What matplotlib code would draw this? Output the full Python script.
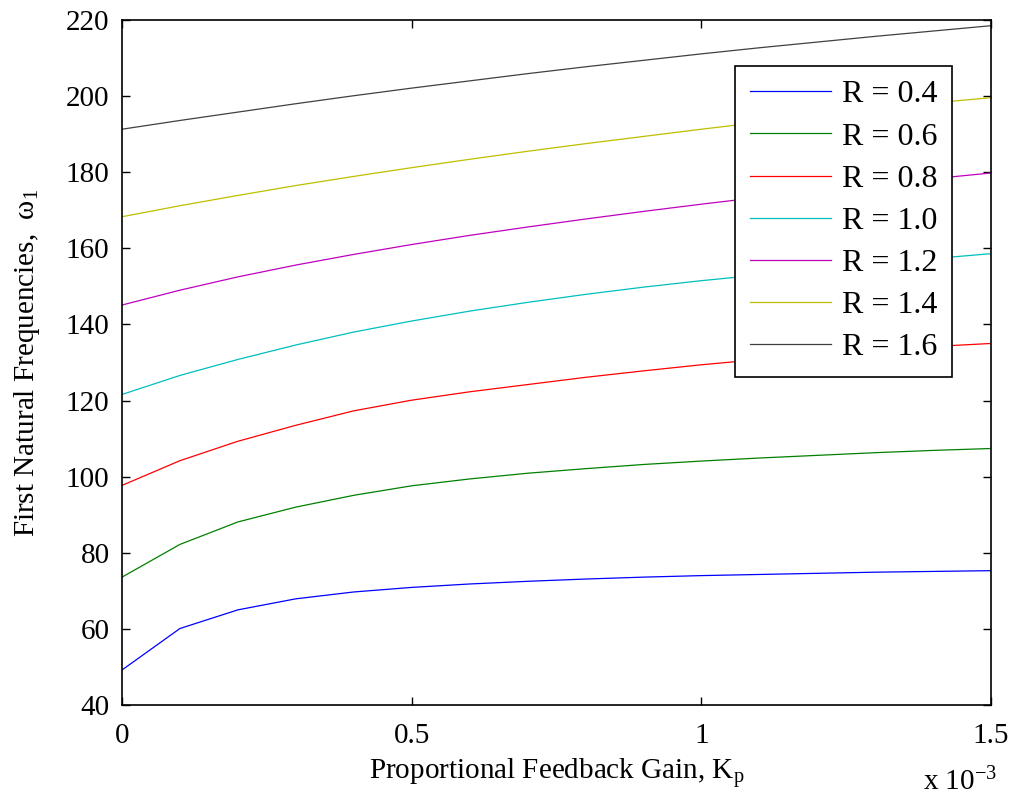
import matplotlib
matplotlib.use("Agg")
import matplotlib.pyplot as plt

plt.rcParams['font.family'] = ['Liberation Serif', 'DejaVu Serif']
plt.rcParams['mathtext.fontset'] = 'custom'
plt.rcParams['mathtext.rm'] = 'Liberation Serif'
plt.rcParams['mathtext.it'] = 'Liberation Serif:italic'

# Kp in units of 1e-3
kp = [0.0, 0.1, 0.2, 0.3, 0.4, 0.5, 0.6, 0.7, 0.8, 0.9, 1.0, 1.1, 1.2, 1.3, 1.4, 1.5]

r04 = [49.2, 60.1, 65.0, 67.9, 69.7, 70.9, 71.8, 72.5, 73.1, 73.6, 74.0, 74.3, 74.6, 74.9, 75.1, 75.3]
r06 = [73.6, 82.2, 88.1, 92.0, 95.1, 97.6, 99.4, 100.9, 102.1, 103.2, 104.1, 104.9, 105.6, 106.3, 106.9, 107.4]
r08 = [97.7, 104.2, 109.3, 113.5, 117.3, 120.1, 122.3, 124.2, 126.1, 127.8, 129.4, 130.8, 132.1, 133.2, 134.2, 135.0]
r10 = [121.6, 126.6, 130.8, 134.6, 138.0, 140.9, 143.5, 145.8, 147.9, 149.8, 151.5, 153.0, 154.5, 155.9, 157.3, 158.6]
r12 = [145.1, 149.0, 152.5, 155.6, 158.4, 161.0, 163.4, 165.6, 167.7, 169.7, 171.6, 173.4, 175.1, 176.7, 178.3, 179.8]
r14 = [168.3, 171.2, 173.9, 176.5, 178.9, 181.2, 183.4, 185.5, 187.5, 189.4, 191.3, 193.1, 194.9, 196.6, 198.2, 199.6]
r16 = [191.3, 193.6, 195.8, 198.0, 200.1, 202.1, 204.0, 205.9, 207.7, 209.4, 211.1, 212.7, 214.2, 215.7, 217.1, 218.5]

series = [r04, r06, r08, r10, r12, r14, r16]
labels = ['R = 0.4', 'R = 0.6', 'R = 0.8', 'R = 1.0', 'R = 1.2', 'R = 1.4', 'R = 1.6']
colors = [(0, 0, 1), (0, 0.5, 0), (1, 0, 0), (0, 0.75, 0.75),
          (0.75, 0, 0.75), (0.75, 0.75, 0), (0.25, 0.25, 0.25)]

xticks = [0, 0.5, 1.0, 1.5]
xticklabels = ['0', '0.5', '1', '1.5']
yticks = [40, 60, 80, 100, 120, 140, 160, 180, 200, 220]

fig = plt.figure(figsize=(10.14, 8.0), dpi=100)
ax = fig.add_axes([122 / 1014, 1 - 705 / 800, (991 - 122) / 1014, (705 - 20) / 800])

for ys, lab, c in zip(series, labels, colors):
    ax.plot(kp, ys, color=c, lw=0.9, label=lab)

ax.set_xlim(0, 1.5)
ax.set_ylim(40, 220)
ax.set_xticks(xticks)
ax.set_xticklabels(xticklabels)
ax.set_yticks(yticks)
ax.tick_params(direction='in', length=6, width=1.0, labelsize=21, top=True, right=True)
ax.tick_params(axis='x', pad=13)
ax.tick_params(axis='y', pad=9)
for s in ax.spines.values():
    s.set_linewidth(1.2)

ax.set_xlabel('Proportional Feedback Gain, K$_{\\mathrm{p}}$', fontsize=21, labelpad=5)
ax.set_ylabel('First Natural Frequencies,  \u03c9$_{\\mathrm{1}}$', fontsize=21, labelpad=17)
ax.text((997 - 122) / 869, -(782 - 705) / 685, 'x 10$^{-3}$', transform=ax.transAxes,
        fontsize=21, ha='right', va='center')

leg = ax.legend(loc='upper right', bbox_to_anchor=((951.7 - 122) / 869, (705 - 65.7) / 685),
                fontsize=23, frameon=True, fancybox=False, framealpha=1, edgecolor='black',
                handlelength=2.55, handletextpad=0.33, labelspacing=0.4, borderpad=0.45,
                borderaxespad=0)
leg.get_frame().set_linewidth(1.2)

fig.savefig('out.png', dpi=100)
